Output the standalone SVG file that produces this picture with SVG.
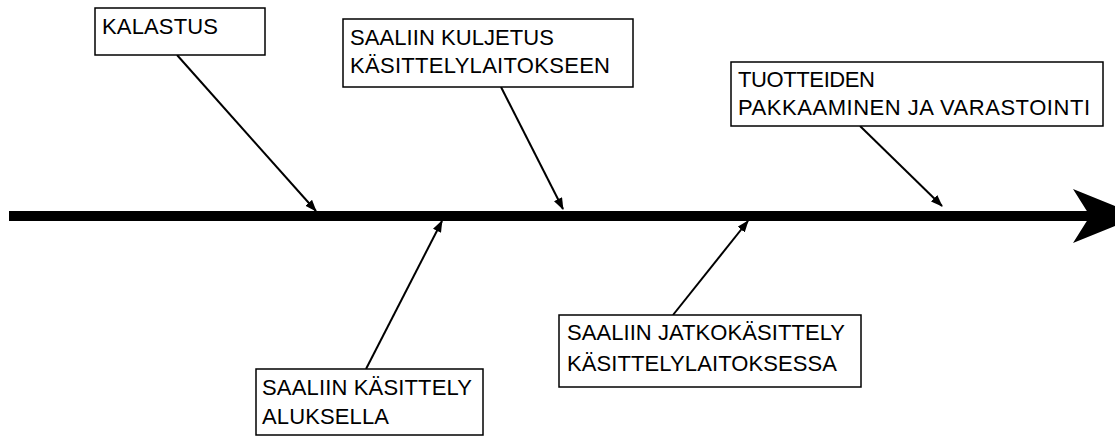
<svg xmlns="http://www.w3.org/2000/svg" width="1115" height="436" viewBox="0 0 1115 436">
<style>
.box{fill:#fff;stroke:#000;stroke-width:1.5}
.lbl{font-family:"Liberation Sans",Arial,sans-serif;font-size:22px;fill:#000}
.con{stroke:#000;stroke-width:2;fill:none;marker-end:url(#ah)}
</style>
<defs>
<marker id="ah" markerUnits="userSpaceOnUse" markerWidth="12" markerHeight="10" refX="11" refY="4.5" orient="auto">
<path d="M0,0 L12,4.5 L0,9 z" fill="#000"/>
</marker>
</defs>
<rect width="1115" height="436" fill="#fff"/>
<g id="spine">
<rect x="9" y="211" width="1082" height="10" fill="#000"/>
<polygon points="1073,189 1140,216 1073,243 1090,216" fill="#000"/>
</g>
<g id="connectors">
<line class="con" x1="177" y1="55" x2="316" y2="211"/>
<line class="con" x1="501" y1="87" x2="563" y2="209"/>
<line class="con" x1="860" y1="126" x2="942" y2="206"/>
<line class="con" x1="366" y1="369" x2="442" y2="221"/>
<line class="con" x1="673" y1="315" x2="748" y2="221"/>
</g>
<g id="kalastus">
<rect class="box" x="95" y="8" width="170" height="47"/>
<text class="lbl" x="102" y="34" textLength="116" lengthAdjust="spacing">KALASTUS</text>
</g>
<g id="kuljetus">
<rect class="box" x="343" y="19" width="290" height="68"/>
<text class="lbl" x="350" y="45" textLength="204" lengthAdjust="spacing">SAALIIN KULJETUS</text>
<text class="lbl" x="350" y="73" textLength="260" lengthAdjust="spacing">KÄSITTELYLAITOKSEEN</text>
</g>
<g id="pakkaaminen">
<rect class="box" x="731" y="62" width="372" height="64"/>
<text class="lbl" x="738" y="87" textLength="137" lengthAdjust="spacing">TUOTTEIDEN</text>
<text class="lbl" x="738" y="115" textLength="352" lengthAdjust="spacing">PAKKAAMINEN JA VARASTOINTI</text>
</g>
<g id="alus">
<rect class="box" x="256" y="369" width="227" height="66"/>
<text class="lbl" x="262" y="395" textLength="210" lengthAdjust="spacing">SAALIIN KÄSITTELY</text>
<text class="lbl" x="262" y="424" textLength="127" lengthAdjust="spacing">ALUKSELLA</text>
</g>
<g id="jatkokasittely">
<rect class="box" x="559" y="315" width="302" height="72"/>
<text class="lbl" x="567" y="340" textLength="278" lengthAdjust="spacing">SAALIIN JATKOKÄSITTELY</text>
<text class="lbl" x="567" y="371" textLength="270" lengthAdjust="spacing">KÄSITTELYLAITOKSESSA</text>
</g>
</svg>
